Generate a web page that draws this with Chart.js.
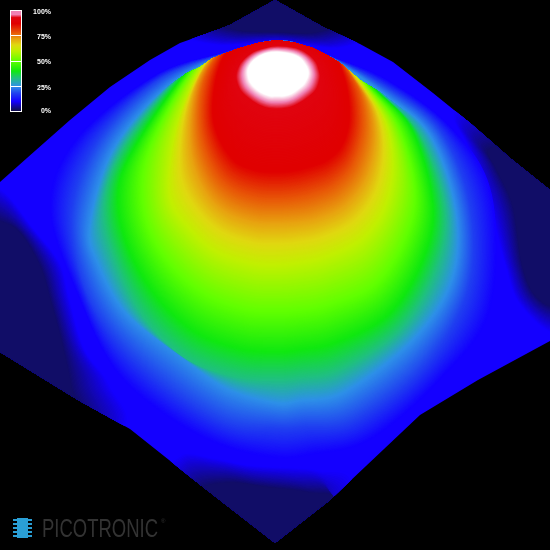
<!DOCTYPE html>
<html>
<head>
  <title>Beam profile</title>
  <script src="https://cdn.jsdelivr.net/npm/chart.js"></script>
  <style>
    html, body { margin: 0; padding: 0; background: #000; overflow: hidden; }
    canvas { display: block; }
  </style>
</head>
<body>
  <canvas id="beamChart" width="550" height="550"></canvas>
  <script>
    // contour levels (%) and the contour lines, outermost first
    // from 33% up the tops of the rings run on behind the dome's horizon and get cut off there
    const levels = [10, 18, 25, 33, 40, 50, 60, 72, 78, 87, 93, 99];
    const ring10 = [[278,40.2],[298,43.3],[330,56],[388,80],[452,128],[492,195],[490,310],[440,380],[370,440],[310,455],[275,458],[220,445],[165,415],[115,370],[80,300],[50,210],[75,140],[155,75],[226,52],[258,43]];
    const ring18 = [[278,40.3],[298,43.5],[330,56.5],[388,88],[440,130],[470,205],[468,290],[425,365],[355,420],[305,427],[275,428],[225,422],[165,385],[112,335],[82,280],[72,210],[98,140],[158,80],[226,53],[258,43.2]];
    const ring25 = [[278,40.5],[298,44],[330,57],[385,95],[430,135],[456,210],[452,280],[413,340],[345,392],[300,401],[275,403],[225,388],[175,352],[125,312],[97,262],[90,225],[113,150],[167,87],[226,54],[258,43.5]];
    const ring33 = [[278,26],[308,32],[350,54],[378,90],[420,135],[445,208],[436,270],[400,330],[340,370],[300,378],[275,380],[235,377],[185,358],[142,315],[113,255],[104,205],[122,150],[175,81],[215,50],[250,32]];
    const ring40 = [[278,28],[306,33],[345,54],[374,88],[412,130],[433,205],[422,262],[388,315],[335,343],[300,350],[275,352],[240,349],[195,332],[155,295],[127,245],[118,195],[133,150],[184,75],[218,50],[250,33]];
    const ring50 = [[278,29],[306,33],[342,52],[366,84],[398,125],[415,190],[405,240],[375,285],[330,305],[298,311],[275,312],[245,310],[205,295],[170,265],[147,225],[142,180],[155,135],[192,71],[222,48],[252,33]];
    const ring60 = [[278,30],[304,34],[338,50],[358,78],[385,120],[393,165],[385,208],[362,240],[325,258],[297,264],[275,266],[250,264],[215,252],[188,228],[170,200],[170,160],[180,115],[202,66],[228,45],[254,34]];
    const ring72 = [[278,31],[302,35],[334,47],[350,72],[370,105],[375,140],[366,178],[345,205],[318,218],[295,222],[275,223],[255,222],[228,213],[208,195],[194,165],[190,130],[195,90],[210,60],[232,43],[256,35]];
    const ring78 = [[278,32],[302,36],[330,46],[346,68],[360,95],[363,130],[353,165],[335,185],[312,195],[292,199],[276,200],[258,199],[236,192],[218,177],[205,150],[200,120],[203,85],[216,57],[236,42],[258,36]];
    const ring87 = [[278,34],[298,38],[322,44],[338,62],[347,90],[349,120],[342,145],[327,160],[305,168],[290,171],[276,172],[260,171],[243,166],[232,158],[220,140],[213,115],[216,80],[226,53],[240,44],[260,38]];
    const ring93 = [[278,46],[296,48],[308,54],[316,62],[319,70],[320,78],[316,90],[306,99],[296,105],[287,108],[277,109],[267,108],[257,104],[248,98],[240,90],[236,78],[238,68],[243,60],[253,52],[265,48]];
    const ring99 = [[278,52],[291,54],[300,58],[305,64],[308,70],[308,76],[304,84],[297,90],[291,94],[284,96],[277,96],[270,96],[262,93],[255,88],[250,82],[248,76],[248,69],[252,62],[258,57],[267,53]];
    const rings = [ring10, ring18, ring25, ring33, ring40, ring50, ring60, ring72, ring78, ring87, ring93, ring99];

    // edge of the surface
    const outline = [[275,0],[323,27],[360,44],[393,62],[433,93],[470,123],[510,158],[550,190],[550,341],[478,380],[420,415],[330,500],[275,543],[203,487],[130,429],[78,400],[0,352],[0,182],[27,158],[70,120],[110,87],[150,60],[180,43],[217,30],[230,25]];

    // the ridge of the dome; behind it only the flat surface is seen
    const horizon = [[-50,100],[120,100],[167,87],[187,73],[200,67],[213,58],[226,53],[240,48],[258,43],[277,40],[296,43],[313,48],[327,55],[340,63],[360,80],[380,92],[403,110],[440,120],[600,120],[600,600],[-50,600]];

    // dark low-signal patches near the edges: [blue edge, navy core]
    const patchTop = [[[275,-20],[360,30],[340,48],[278,42],[215,45],[190,30]], [[275,-10],[335,20],[315,32],[278,32],[240,30],[222,20]]];
    const patchLeft = [[[-40,180],[0,188],[33,228],[60,263],[70,300],[85,350],[110,385],[118,430],[-40,440]], [[-30,215],[0,222],[20,233],[40,267],[50,300],[60,337],[70,385],[75,430],[-30,420]]];
    const patchRight = [[[455,110],[468,148],[490,210],[505,265],[520,305],[560,335],[600,300],[600,150],[520,110]], [[490,150],[497,170],[513,205],[523,267],[537,297],[560,305],[590,280],[590,170],[530,150]]];
    const patchBottom = [[[180,455],[213,458],[247,465],[280,467],[317,470],[352,482],[310,570],[170,490]], [[200,490],[230,483],[263,487],[310,493],[335,502],[300,560],[250,560],[210,510]]];
    const patches = [patchTop, patchLeft, patchRight, patchBottom];

    // colour scale
    const scaleValues = [0, 2, 10, 18, 25, 33, 40, 50, 60, 66, 72, 78, 87, 93, 96, 99, 100];
    const scaleColors = [[12,8,64],[17,13,98],[20,0,255],[32,64,240],[46,144,232],[32,192,128],[16,232,16],[96,255,0],[192,240,0],[224,216,16],[232,160,16],[232,88,8],[224,0,0],[224,4,16],[240,130,180],[255,255,255],[255,255,255]];

    // legend
    const legendTicks = [100, 75, 50, 25, 0];
    const legendLabels = ['100%', '75%', '50%', '25%', '0%'];

    function colorFor(v) {
      let i = 0;
      while (i < scaleValues.length - 2 && v > scaleValues[i + 1]) i++;
      const t = Math.min(1, Math.max(0, (v - scaleValues[i]) / (scaleValues[i + 1] - scaleValues[i])));
      const a = scaleColors[i], b = scaleColors[i + 1];
      return 'rgb(' + [0, 1, 2].map(k => Math.round(a[k] + (b[k] - a[k]) * t)).join(',') + ')';
    }

    // closed curve through all the points
    function smoothPath(ctx, pts) {
      const n = pts.length;
      ctx.beginPath();
      ctx.moveTo(pts[0][0], pts[0][1]);
      for (let i = 0; i < n; i++) {
        const p0 = pts[(i + n - 1) % n], p1 = pts[i], p2 = pts[(i + 1) % n], p3 = pts[(i + 2) % n];
        ctx.bezierCurveTo(
          p1[0] + (p2[0] - p0[0]) / 6, p1[1] + (p2[1] - p0[1]) / 6,
          p2[0] - (p3[0] - p1[0]) / 6, p2[1] - (p3[1] - p1[1]) / 6,
          p2[0], p2[1]);
      }
      ctx.closePath();
    }

    function blendRings(ctx, a, b, va, vb, steps) {
      for (let s = 0; s < steps; s++) {
        const t = s / steps;
        smoothPath(ctx, a.map((p, i) => [p[0] + (b[i][0] - p[0]) * t, p[1] + (b[i][1] - p[1]) * t]));
        ctx.fillStyle = colorFor(va + (vb - va) * t);
        ctx.fill();
      }
    }

    function polyPath(ctx, pts) {
      ctx.beginPath();
      pts.forEach((p, i) => i ? ctx.lineTo(p[0], p[1]) : ctx.moveTo(p[0], p[1]));
      ctx.closePath();
    }

    const surfacePlugin = {
      id: 'surface',
      beforeDatasetsDraw(chart) {
        const ctx = chart.ctx, sx = chart.scales.x, sy = chart.scales.y;
        const px = p => [sx.getPixelForValue(p[0]), sy.getPixelForValue(p[1])];

        ctx.save();
        polyPath(ctx, outline.map(px));
        ctx.fillStyle = colorFor(10);
        ctx.fill();
        ctx.clip();

        patches.forEach(pt => blendRings(ctx, pt[0].map(px), pt[1].map(px), 10, 2, 30));

        const ringPix = rings.map((r, i) => chart.getDatasetMeta(i).data.map(el => [el.x, el.y]));
        for (let i = 0; i < ringPix.length - 1; i++) {
          // rings up to 25% hug the ridge by themselves
          if (i === 2) {
            polyPath(ctx, horizon.map(px));
            ctx.clip();
          }
          blendRings(ctx, ringPix[i], ringPix[i + 1], levels[i], levels[i + 1], 40);
        }
        smoothPath(ctx, ringPix[ringPix.length - 1]);
        ctx.fillStyle = '#fff';
        ctx.fill();
        ctx.restore();

        drawLegend(ctx, sx, sy);
        drawLogo(ctx, sx, sy);
      }
    };

    function drawLegend(ctx, sx, sy) {
      const left = sx.getPixelForValue(10), right = sx.getPixelForValue(22);
      const top = sy.getPixelForValue(10), bottom = sy.getPixelForValue(111);
      for (let y = top; y < bottom; y++) {
        ctx.fillStyle = colorFor(Math.min(96, 100 * (bottom - y) / (bottom - top)));
        ctx.fillRect(left, y, right - left, 1);
      }
      ctx.strokeStyle = '#fff';
      ctx.lineWidth = 1;
      ctx.strokeRect(left + 0.5, top + 0.5, right - left - 1, bottom - top);
      ctx.fillStyle = '#fff';
      ctx.font = 'bold 7px "Liberation Sans"';
      ctx.textAlign = 'right';
      ctx.textBaseline = 'middle';
      legendTicks.forEach((v, i) => {
        const y = top + (100 - v) / 100 * (bottom - top);
        if (v !== 0 && v !== 100) ctx.fillRect(left, Math.round(y), right - left, 1);
        ctx.fillText(legendLabels[i], sx.getPixelForValue(51), Math.min(111, y + 2));
      });
    }

    function drawLogo(ctx, sx, sy) {
      const x0 = sx.getPixelForValue(13), y0 = sy.getPixelForValue(518);
      ctx.fillStyle = '#2a9fd6';
      ctx.fillRect(x0 + 4, y0, 11, 20);
      for (let i = 0; i < 5; i++) {
        ctx.fillRect(x0, y0 + 1 + i * 4, 19, 2);
      }
      ctx.fillStyle = '#333';
      ctx.font = '26px "Liberation Sans"';
      ctx.textAlign = 'left';
      ctx.textBaseline = 'alphabetic';
      ctx.fillText('PICOTRONIC', 42, 537, 116);
      ctx.font = '6px "Liberation Sans"';
      ctx.fillText('®', 161, 523);
    }

    new Chart(document.getElementById('beamChart'), {
      type: 'scatter',
      data: {
        datasets: rings.map((r, i) => ({
          label: levels[i] + '%',
          data: r.map(p => ({ x: p[0], y: p[1] })),
          pointRadius: 0,
          showLine: false
        }))
      },
      options: {
        responsive: false,
        animation: false,
        layout: { padding: 0 },
        plugins: { legend: { display: false }, tooltip: { enabled: false } },
        scales: {
          x: { type: 'linear', min: 0, max: 550, display: false },
          y: { type: 'linear', min: 0, max: 550, reverse: true, display: false }
        }
      },
      plugins: [surfacePlugin]
    });
  </script>
</body>
</html>
